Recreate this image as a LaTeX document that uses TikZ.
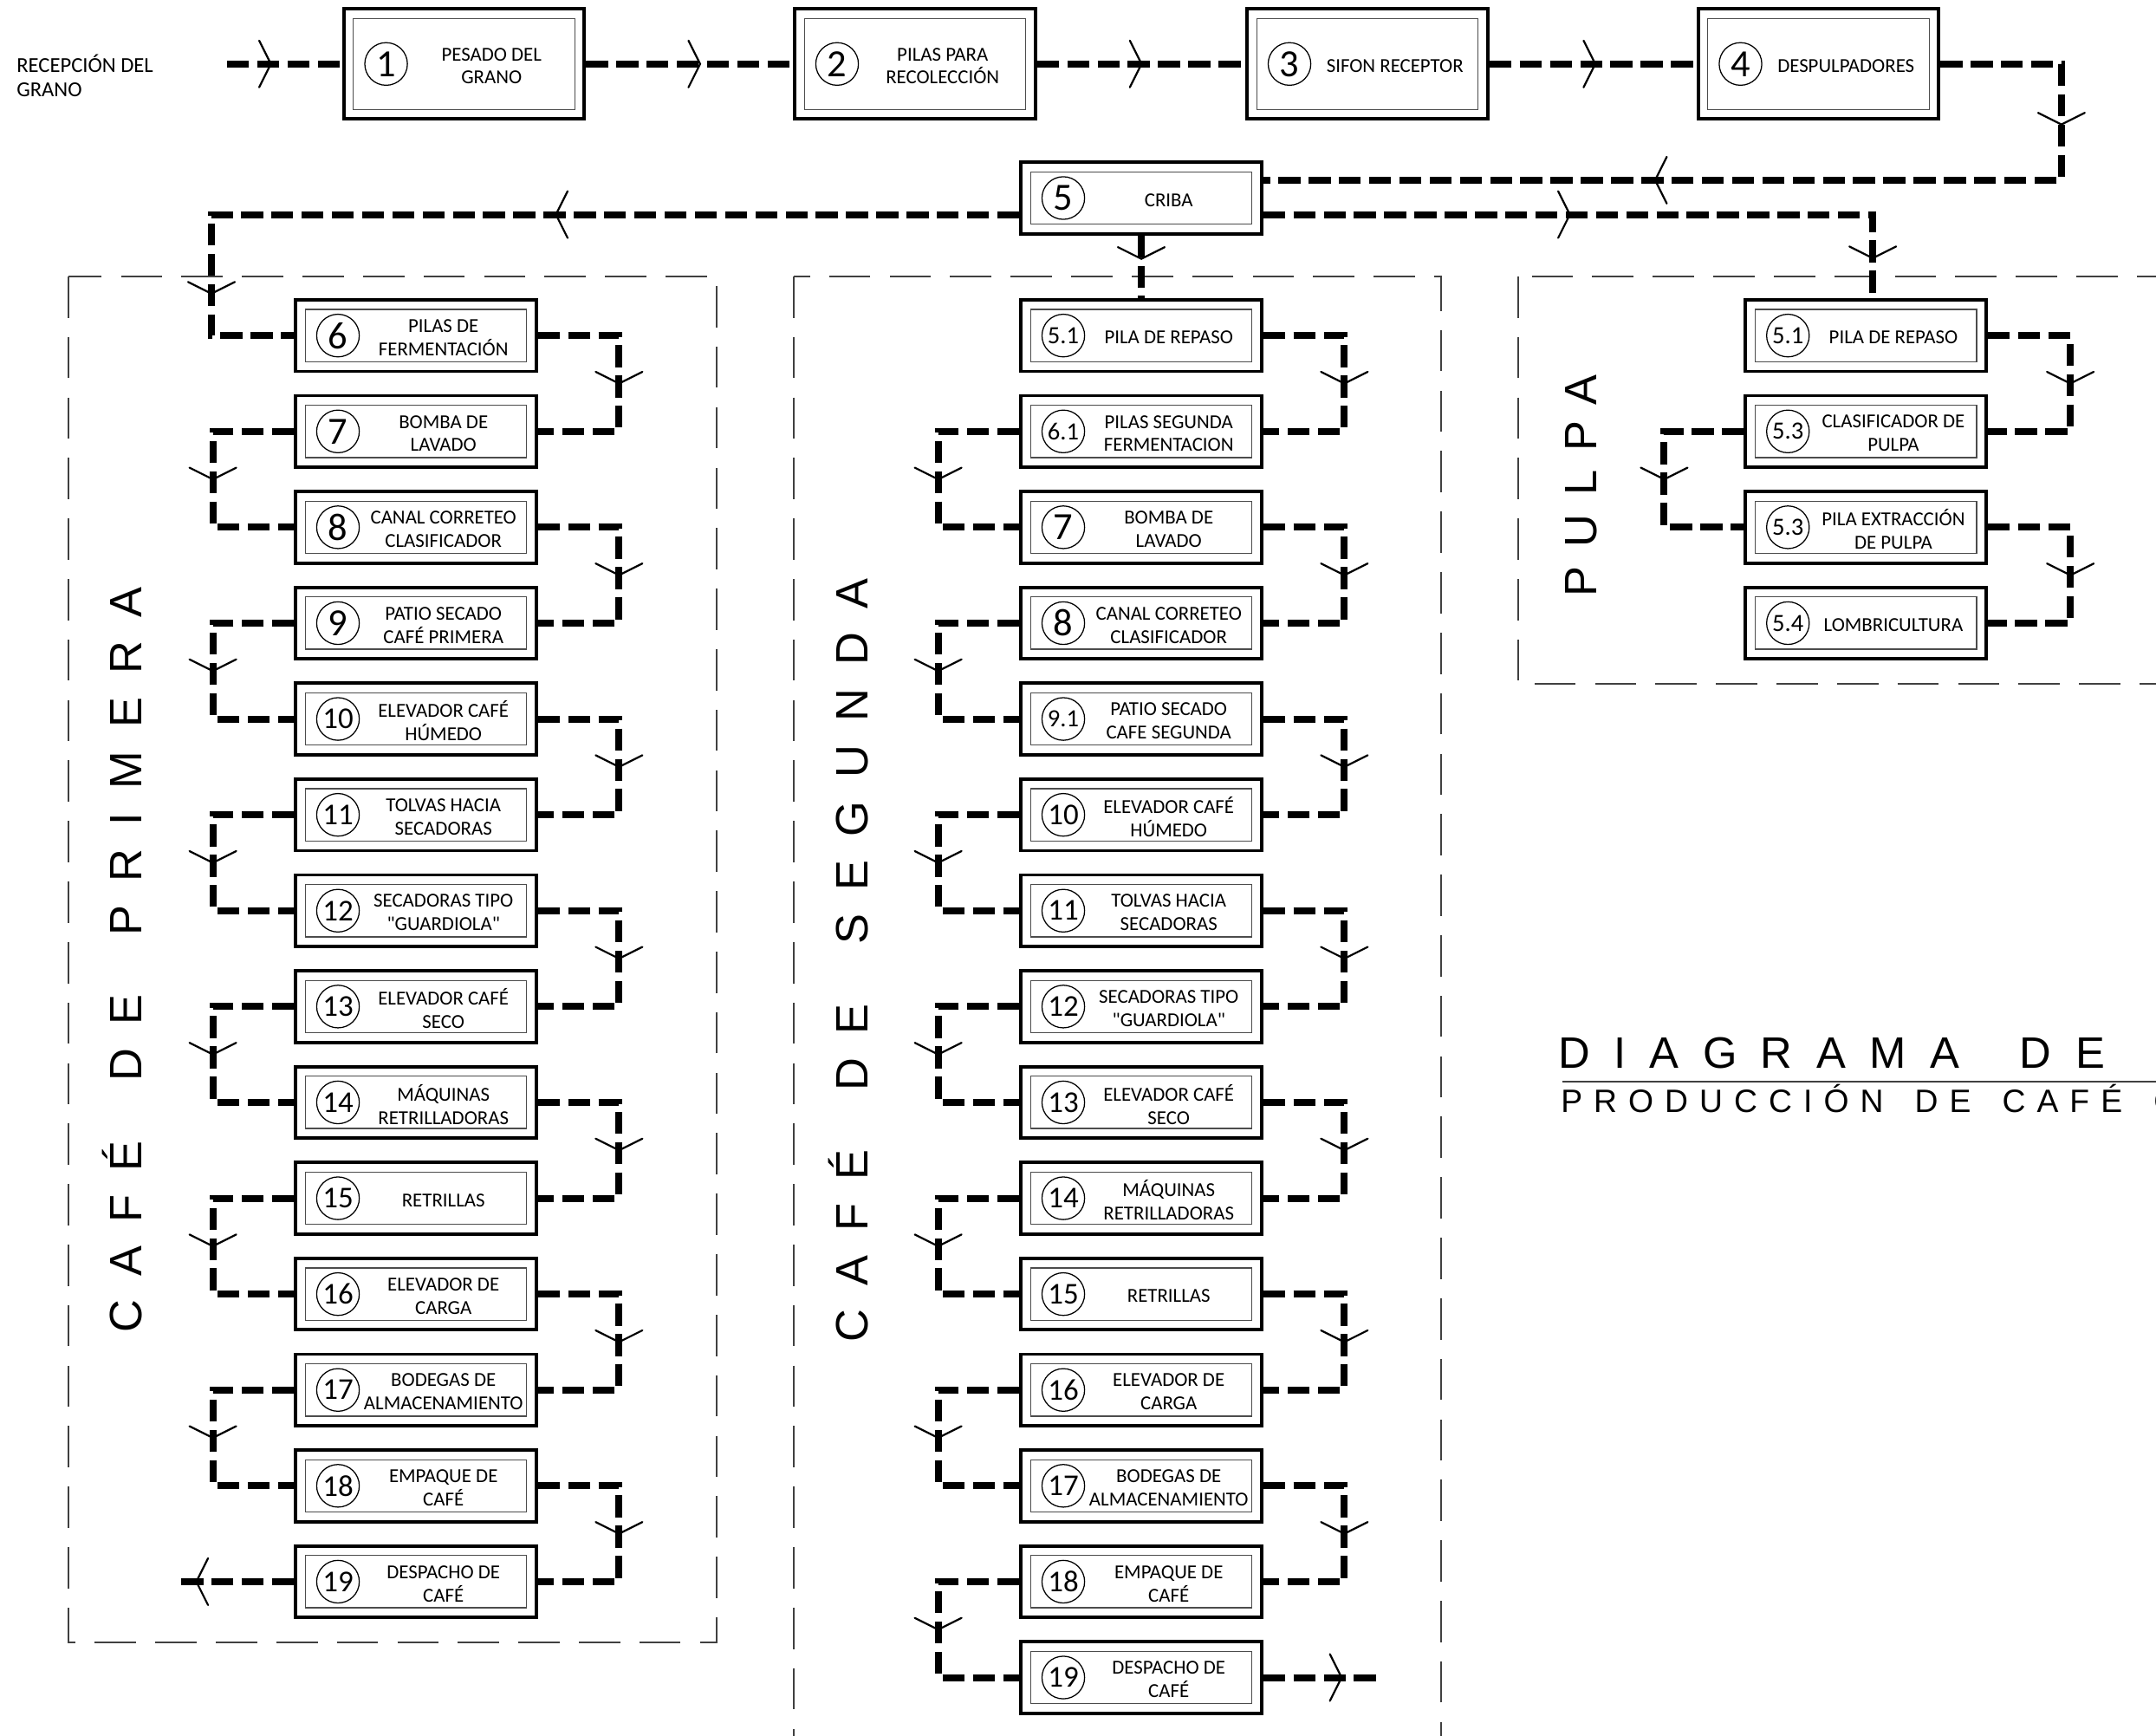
\documentclass[tikz,border=0pt]{standalone}
\usepackage{fontspec}
\setmainfont{Carlito}
\newfontfamily\qfont[Ligatures=ResetAll]{Carlito}
\newfontfamily\arialA[LetterSpace=52]{Liberation Sans}
\newfontfamily\arialB[LetterSpace=42]{Liberation Sans}
\newfontfamily\arialT[LetterSpace=54]{Liberation Sans}
\newfontfamily\arialS[LetterSpace=35]{Liberation Sans}
\usetikzlibrary{calc,decorations.markings,shapes.geometric}

\newcommand\chevmark{\draw[solid,line width=1.4pt,line cap=round] (-8.5pt,-17pt) -- (0pt,0pt) -- (-8.5pt,17pt);}
\newcommand\wsp[1]{\ \hspace{#1}}
\newcommand\dq{{\qfont\symbol{34}}}

\tikzset{
  flow/.style={line width=5pt, dash pattern=on 16pt off 6pt, line cap=butt},
  chev/.style={postaction={decorate, decoration={markings, mark=at position #1 with {\chevmark}}}},
  chevtwo/.style 2 args={postaction={decorate, decoration={markings, mark=at position #1 with {\chevmark}, mark=at position #2 with {\chevmark}}}},
  outerbox/.style={draw, line width=2.4pt, fill=white, minimum width=175, inner sep=0},
  innerbox/.style={draw=black!70, line width=0.8pt, minimum width=161, inner sep=0},
  numcirc/.style={circle, draw, line width=0.8pt, minimum size=31, inner sep=0},
  boxtext/.style={align=center, inner sep=0, font=\fontsize{14.4}{17}\selectfont},
  container/.style={draw=black!75, line width=1.2pt, dash pattern=on 30pt off 14pt},
  biglabel/.style={rotate=90, inner sep=0}
}

\newcommand\procbox[7]{%
  \node[outerbox, minimum height=#4] (#1) at (#2,#3) {};
  \node[innerbox, minimum height=#4-14] (#1-in) at (#1.center) {};
  \node[numcirc, font=\fontsize{#6}{#6}\selectfont] (#1-num) at ([xshift=32pt]#1.west) {#5};
  \node[boxtext] (#1-txt) at ($(#1.center)+(20,1.5)$) {#7};
}

\begin{document}
\begin{tikzpicture}[x=1pt,y=-1pt]
\useasboundingbox (0,0) rectangle (1568,1262);
\clip (0,0) rectangle (1568,1262);

% containers
\draw[container] (50,201) rectangle (521,1194);
\draw[container] (577,201) rectangle (1048,1320);
\draw[container] (1104,201) rectangle (1620,497);

% side labels
\node[biglabel, font=\arialA\fontsize{33}{40}\selectfont] (lblA) at (89,698) {CAFÉ\wsp{17pt}DE\wsp{17pt}PRIMERA};
\node[biglabel, font=\arialA\fontsize{33}{40}\selectfont] (lblB) at (617,698) {CAFÉ\wsp{17pt}DE\wsp{17pt}SEGUNDA};
\node[biglabel, font=\arialB\fontsize{33}{40}\selectfont] (lblC) at (1150,353) {PULPA};

% title
\node[anchor=base west, inner sep=0, font=\arialT\fontsize{32}{38}\selectfont] (title) at (1133,777) {DIAGRAMA\wsp{18pt}DE};
\draw[line width=1.2pt, black!75] (1136,786.5) -- (1568,786.5);
\node[anchor=base west, inner sep=0, font=\arialS\fontsize{23.5}{28}\selectfont] (subtitle) at (1135,809) {PRODUCCIÓN\wsp{8pt}DE\wsp{8pt}CAFÉ\wsp{8pt}C};

% reception
\node[anchor=west, align=left, inner sep=0, font=\fontsize{15.5}{18}\selectfont] (recep) at (12,55) {RECEPCIÓN DEL\\GRANO};
\coordinate (start) at (165,46.5);

% top row
\procbox{b1}{337.5}{46.5}{80}{1}{28}{PESADO DEL\\GRANO}
\procbox{b2}{665.5}{46.5}{80}{2}{28}{PILAS PARA\\RECOLECCIÓN}
\procbox{b3}{994.5}{46.5}{80}{3}{28}{SIFON RECEPTOR}
\procbox{b4}{1322.5}{46.5}{80}{4}{28}{DESPULPADORES}
\procbox{b5}{830}{144}{52}{5}{28}{CRIBA}

% cafe de primera
\procbox{a6}{302.5}{244}{52}{6}{28}{PILAS DE\\FERMENTACIÓN}
\procbox{a7}{302.5}{313.7}{52}{7}{28}{BOMBA DE\\LAVADO}
\procbox{a8}{302.5}{383.4}{52}{8}{28}{CANAL CORRETEO\\CLASIFICADOR}
\procbox{a9}{302.5}{453.1}{52}{9}{28}{PATIO SECADO\\CAFÉ PRIMERA}
\procbox{a10}{302.5}{522.8}{52}{10}{22}{ELEVADOR CAFÉ\\HÚMEDO}
\procbox{a11}{302.5}{592.5}{52}{11}{22}{TOLVAS HACIA\\SECADORAS}
\procbox{a12}{302.5}{662.2}{52}{12}{22}{SECADORAS TIPO\\\dq GUARDIOLA\dq}
\procbox{a13}{302.5}{731.9}{52}{13}{22}{ELEVADOR CAFÉ\\SECO}
\procbox{a14}{302.5}{801.6}{52}{14}{22}{MÁQUINAS\\RETRILLADORAS}
\procbox{a15}{302.5}{871.3}{52}{15}{22}{RETRILLAS}
\procbox{a16}{302.5}{941}{52}{16}{22}{ELEVADOR DE\\CARGA}
\procbox{a17}{302.5}{1010.7}{52}{17}{22}{BODEGAS DE\\ALMACENAMIENTO}
\procbox{a18}{302.5}{1080.4}{52}{18}{22}{EMPAQUE DE\\CAFÉ}
\procbox{a19}{302.5}{1150.1}{52}{19}{22}{DESPACHO DE\\CAFÉ}

% cafe de segunda
\procbox{s51}{830}{244}{52}{5.1}{18}{PILA DE REPASO}
\procbox{s61}{830}{313.7}{52}{6.1}{18}{PILAS SEGUNDA\\FERMENTACION}
\procbox{s7}{830}{383.4}{52}{7}{28}{BOMBA DE\\LAVADO}
\procbox{s8}{830}{453.1}{52}{8}{28}{CANAL CORRETEO\\CLASIFICADOR}
\procbox{s91}{830}{522.8}{52}{9.1}{18}{PATIO SECADO\\CAFE SEGUNDA}
\procbox{s10}{830}{592.5}{52}{10}{22}{ELEVADOR CAFÉ\\HÚMEDO}
\procbox{s11}{830}{662.2}{52}{11}{22}{TOLVAS HACIA\\SECADORAS}
\procbox{s12}{830}{731.9}{52}{12}{22}{SECADORAS TIPO\\\dq GUARDIOLA\dq}
\procbox{s13}{830}{801.6}{52}{13}{22}{ELEVADOR CAFÉ\\SECO}
\procbox{s14}{830}{871.3}{52}{14}{22}{MÁQUINAS\\RETRILLADORAS}
\procbox{s15}{830}{941}{52}{15}{22}{RETRILLAS}
\procbox{s16}{830}{1010.7}{52}{16}{22}{ELEVADOR DE\\CARGA}
\procbox{s17}{830}{1080.4}{52}{17}{22}{BODEGAS DE\\ALMACENAMIENTO}
\procbox{s18}{830}{1150.1}{52}{18}{22}{EMPAQUE DE\\CAFÉ}
\procbox{s19}{830}{1219.8}{52}{19}{22}{DESPACHO DE\\CAFÉ}

% pulpa
\procbox{p51}{1357}{244}{52}{5.1}{18}{PILA DE REPASO}
\procbox{p53a}{1357}{313.7}{52}{5.3}{18}{CLASIFICADOR DE\\PULPA}
\procbox{p53b}{1357}{383.4}{52}{5.3}{18}{PILA EXTRACCIÓN\\DE PULPA}
\procbox{p54}{1357}{453.1}{52}{5.4}{18}{LOMBRICULTURA}

% top connectors
\draw[flow, chev=32pt] (start) -- (b1.west);
\draw[flow, chev=83pt] (b1.east) -- (b2.west);
\draw[flow, chev=76pt] (b2.east) -- (b3.west);
\draw[flow, chev=77pt] (b3.east) -- (b4.west);
\draw[flow, chevtwo={132pt}{468pt}] (b4.east) -- ++(88,0) |- ($(b5.east)+(0,-13)$);
\draw[flow, chevtwo={337pt}{645pt}] ($(b5.west)+(0,12)$) -| ($(a6.west)+(-60,0)$) -- (a6.west);
\draw[flow, chevtwo={223pt}{475pt}] ($(b5.east)+(0,12)$) -| ([xshift=5pt]p51.north);
\draw[flow, chev=17pt] (b5.south) -- (s51.north);

% primera connectors
\foreach \u/\v in {a6/a7,a8/a9,a10/a11,a12/a13,a14/a15,a16/a17,a18/a19}
  \draw[flow, chev=0.5] (\u.east) -- ++(59,0) |- (\v.east);
\foreach \u/\v in {a7/a8,a9/a10,a11/a12,a13/a14,a15/a16,a17/a18}
  \draw[flow, chev=0.5] (\u.west) -- ++(-59,0) |- (\v.west);
\coordinate (endL) at (130,1150.1);
\draw[flow, chev=71pt] (a19.west) -- (endL);

% segunda connectors
\foreach \u/\v in {s51/s61,s7/s8,s91/s10,s11/s12,s13/s14,s15/s16,s17/s18}
  \draw[flow, chev=0.5] (\u.east) -- ++(59,0) |- (\v.east);
\foreach \u/\v in {s61/s7,s8/s91,s10/s11,s12/s13,s14/s15,s16/s17,s18/s19}
  \draw[flow, chev=0.5] (\u.west) -- ++(-59,0) |- (\v.west);
\coordinate (endR) at (1003,1219.8);
\draw[flow, chev=57pt] (s19.east) -- (endR);

% pulpa connectors
\draw[flow, chev=0.5] (p51.east) -- ++(60,0) |- (p53a.east);
\draw[flow, chev=0.5] (p53a.west) -- ++(-58,0) |- (p53b.west);
\draw[flow, chev=0.5] (p53b.east) -- ++(60,0) |- (p54.east);
\end{tikzpicture}
\end{document}
